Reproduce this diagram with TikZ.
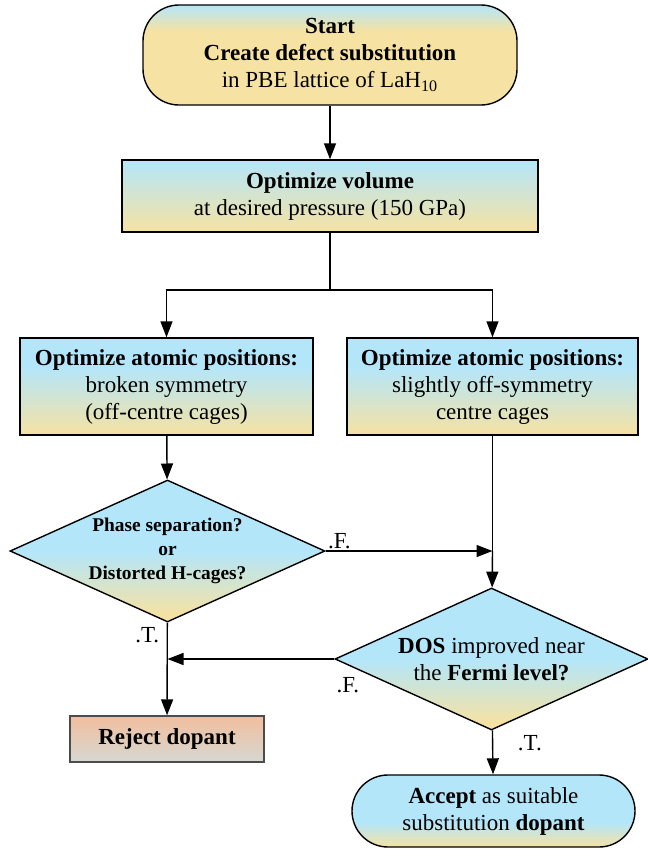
\documentclass[tikz,border=0pt]{standalone}
\usepackage{fontspec}
\setmainfont{Liberation Serif}
\usepackage{tikz}
\usetikzlibrary{shapes.geometric, arrows.meta, positioning}
\definecolor{cageblue}{RGB}{180,230,250}
\definecolor{cageyellow}{RGB}{246,226,162}
\definecolor{rejectsalmon}{RGB}{242,190,158}
\definecolor{rejectgray}{RGB}{214,216,210}
\pgfdeclareverticalshading{startshade}{100bp}{color(0bp)=(cageyellow); color(25bp)=(cageyellow);
  color(62bp)=(cageyellow); color(75bp)=(cageblue); color(100bp)=(cageblue)}
\pgfdeclareverticalshading{boxshade}{100bp}{color(0bp)=(cageyellow); color(25bp)=(cageyellow);
  color(60bp)=(cageblue); color(75bp)=(cageblue); color(100bp)=(cageblue)}
\pgfdeclareverticalshading{volshade}{100bp}{color(0bp)=(cageyellow); color(25bp)=(cageyellow);
  color(75bp)=(cageblue); color(100bp)=(cageblue)}
\pgfdeclareverticalshading{diashade}{100bp}{color(0bp)=(cageyellow); color(27bp)=(cageyellow);
  color(50bp)=(cageblue); color(100bp)=(cageblue)}
\pgfdeclareverticalshading{acceptshade}{100bp}{color(0bp)=(cageyellow); color(25bp)=(cageyellow);
  color(42bp)=(cageblue); color(100bp)=(cageblue)}
\pgfdeclareverticalshading{rejectshade}{100bp}{color(0bp)=(rejectgray); color(25bp)=(rejectgray);
  color(75bp)=(rejectsalmon); color(100bp)=(rejectsalmon)}
\tikzset{
  stepbox/.style={rectangle, draw, line width=0.7pt, inner sep=0pt, align=center,
    font=\fontsize{11.5}{13.5}\selectfont},
  terminal/.style={stepbox, rounded corners=18pt},
  decision/.style={diamond, aspect=2.2, draw, line width=0.7pt, inner sep=0pt, align=center,
    shading=diashade, font=\fontsize{11.5}{13.5}\selectfont},
  arrow/.style={-{Triangle[length=8pt, width=6pt]}, line width=0.7pt},
  line/.style={line width=0.7pt},
  flag/.style={font=\fontsize{11.5}{13.5}\selectfont, inner sep=1pt},
}

\begin{document}
\begin{tikzpicture}[x=0.5pt, y=-0.5pt]
  \useasboundingbox (0,0) rectangle (648,857);
  \node[terminal, shading=startshade, minimum width=187pt, minimum height=50pt]
    (start) at (330,55) {\textbf{Start}\\\textbf{Create defect substitution}\\in PBE lattice of LaH\textsubscript{10}};
  \node[stepbox, shading=volshade, minimum width=208pt, minimum height=36pt]
    (vol) at (330,196) {\textbf{Optimize volume}\\at desired pressure (150 GPa)};
  \node[stepbox, shading=boxshade, minimum width=146.5pt, minimum height=48.5pt]
    (broken) at (166.5,386.5) {\textbf{Optimize atomic positions:}\\broken symmetry\\(off-centre cages)};
  \node[stepbox, shading=boxshade, minimum width=145.5pt, minimum height=48.5pt]
    (centre) at (492.5,386.5) {\textbf{Optimize atomic positions:}\\slightly off-symmetry\\centre cages};
  \node[decision, minimum width=157.5pt, minimum height=71pt,
        font=\fontsize{9.7}{12}\selectfont\bfseries]
    (phase) at (167.5,551) {Phase separation?\\or\\Distorted H-cages?};
  \node[decision, minimum width=156.5pt, minimum height=71pt]
    (dos) at (491.5,659) {\textbf{DOS} improved near\\the \textbf{Fermi level?}};
  \node[stepbox, shading=rejectshade, draw=black!70, minimum width=97pt, minimum height=23pt]
    (reject) at (167,739) {\textbf{Reject dopant}};
  \node[terminal, shading=acceptshade, minimum width=141.5pt, minimum height=36pt]
    (accept) at (493.5,811) {\textbf{Accept} as suitable\\substitution \textbf{dopant}};

  \coordinate (split) at (vol.south |- 0,290);
  \coordinate (join) at (centre.south |- phase.east);
  \coordinate (merge) at (phase.south |- dos.west);

  \draw[arrow] (start) -- (vol);
  \draw[line] (vol) -- (split);
  \draw[arrow] (split) -| (broken);
  \draw[arrow] (split) -| (centre);
  \draw[arrow] (broken) -- (phase);
  \draw[arrow] (phase.east) -- (join);
  \node[flag, above right=0pt and 0pt of phase.east] (phasef) {.F.};
  \draw[line] (centre) -- (join);
  \draw[arrow] (join) -- (dos);
  \draw[arrow] (dos.west) -- (merge);
  \node[flag, below right=8pt and 0pt of dos.west] (dosf) {.F.};
  \draw[arrow] (phase) -- (reject);
  \node[flag, below left=1pt and 3pt of phase.south] (phaset) {.T.};
  \draw[arrow] (dos) -- (accept);
  \node[flag, below right=1pt and 12pt of dos.south] (dost) {.T.};
\end{tikzpicture}
\end{document}
